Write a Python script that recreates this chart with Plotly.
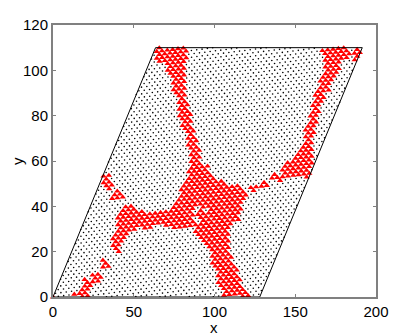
import numpy as np
import plotly.graph_objects as go

X_TICKS = [0, 50, 100, 150, 200]
Y_TICKS = [0, 20, 40, 60, 80, 100, 120]
FRAME_X = [0, 63.5, 191.5, 128, 0]
FRAME_Y = [0, 110, 110, 0, 0]
V1 = (3.3, 0.3)    # lattice vectors
V2 = (1.6, 1.63)
ROW_H = 1.732      # height of one band in RED_ROWS
PAD = 0.8          # how far a node may sit outside an interval and still be red

# Red regions: band number -> x intervals
RED_ROWS = {
 0:[(0,1.5),(12.5,21),(105,120)],1:[(14,22),(105,119)],2:[(16,22),(104,118)],3:[(18,22.5),(104,117)],
 4:[(19,22),(24,28),(103,116)],5:[(24,29),(102,115)],6:[(25,28),(101.5,114)],7:[(100.5,113)],
 8:[(30.5,36),(100,112)],9:[(31,35),(99,111)],10:[(98,110)],11:[(98,109)],
 12:[(37,40),(97,109)],13:[(36,40),(96,108)],14:[(36.5,42),(94,108)],15:[(37,44),(92,107)],
 16:[(38.5,46),(90,108)],17:[(40,50),(88,109)],18:[(40,60),(70,110)],19:[(40,88),(91,112)],
 20:[(40,86),(90,114)],21:[(41,84),(87,94),(96,115)],22:[(42,56),(70,86),(89,93),(96,116)],23:[(43,48),(74,88),(91,116)],
 24:[(76,117)],25:[(36.5,43),(78,118)],26:[(37,43),(79,119)],27:[(38,42),(80,118),(122,125)],
 28:[(33,36),(81,116),(123,126),(129,132)],29:[(32,36),(83,108),(130,133)],30:[(31.5,35.5),(84,100),(134,141)],31:[(31,34),(85,97),(135,139),(142,158)],
 32:[(85,96),(141,158)],33:[(85,95),(143,159)],34:[(85,93),(145,160)],35:[(85,91),(148,160)],
 36:[(85,91),(150,160)],37:[(85,90),(152,160)],38:[(84,89),(153,160)],39:[(84,89),(155,160)],
 40:[(83,88),(156,160)],41:[(83,88),(156.5,160)],42:[(82,87),(157,161)],43:[(82,87),(158,162)],
 44:[(81,86),(158,163)],45:[(80,85),(159,163)],46:[(79,85),(160,164.5)],47:[(79,84),(160.5,165)],
 48:[(78,83),(161,165)],49:[(78,83),(161.5,165.5)],50:[(78,83),(162,167)],51:[(76,81),(163,167)],
 52:[(76,81),(164,168)],53:[(75,81),(165,170)],54:[(75,81),(165,171)],55:[(75,81),(166,172)],
 56:[(73,81),(167,174)],57:[(72,81),(168,175)],58:[(71,81),(169,177)],59:[(69,81),(169,177)],
 60:[(65,81),(168,179),(187.5,189)],61:[(65,82),(168,181),(187.5,190)],62:[(64,82),(168,184),(187.5,190)],63:[(64,82),(167,184),(188,191)],
}

# Lattice nodes from the measured vectors, clipped to the frame
ii, jj = np.meshgrid(np.arange(-80, 120), np.arange(-10, 90))
lat_x = (V1[0] * ii + V2[0] * jj).ravel()
lat_y = (V1[1] * ii + V2[1] * jj).ravel()
shear = lat_x - lat_y * FRAME_X[1] / FRAME_Y[1]
inside = (lat_y >= 0) & (lat_y <= 110) & (shear >= 0) & (shear <= 128)
lat_x, lat_y = lat_x[inside], lat_y[inside]

mask = np.zeros(lat_x.shape, dtype=bool)
bands = np.clip(np.round(lat_y / ROW_H).astype(int), 0, 63)
for row, spans in RED_ROWS.items():
    for a, b in spans:
        mask |= (bands == row) & (lat_x >= a - PAD) & (lat_x <= b + PAD)

fig = go.Figure()
fig.add_trace(go.Scatter(x=lat_x[~mask], y=lat_y[~mask], mode="markers",
                         marker=dict(symbol="circle", size=1.6, color="black", line=dict(width=0))))
fig.add_trace(go.Scatter(x=lat_x[mask], y=lat_y[mask], mode="markers", cliponaxis=False,
                         marker=dict(symbol="triangle-up", size=5.5, color="#ff0000", line=dict(width=0))))
fig.add_trace(go.Scatter(x=FRAME_X, y=FRAME_Y, mode="lines", line=dict(color="black", width=1)))

axis = dict(showgrid=False, zeroline=False, showline=True, mirror="ticks", linecolor="#808080", linewidth=2,
            ticks="inside", ticklen=3, tickwidth=1, tickcolor="#808080", automargin=False,
            tickfont=dict(family="Liberation Sans", size=15, color="black"))
# The page body adds an 8 px margin, so the figure is 8 px smaller and its margins shifted
fig.update_layout(
    width=407, height=327, showlegend=False, plot_bgcolor="white", paper_bgcolor="white",
    margin=dict(l=45, r=39, t=17, b=38, autoexpand=False), font=dict(family="Liberation Sans", color="black"),
    xaxis=dict(axis, range=[0, 200], tickvals=X_TICKS),
    yaxis=dict(axis, range=[0, 120], tickvals=Y_TICKS),
    annotations=[
        dict(text="x", xref="paper", yref="paper", x=0.498, y=0, xanchor="center", yanchor="top",
             yshift=-20, showarrow=False, font=dict(size=15)),
        dict(text="y", xref="paper", yref="paper", x=0, y=0.5, xanchor="center", yanchor="middle",
             xshift=-36, textangle=-90, showarrow=False, font=dict(size=15)),
    ],
)
fig.write_html("out.html")
